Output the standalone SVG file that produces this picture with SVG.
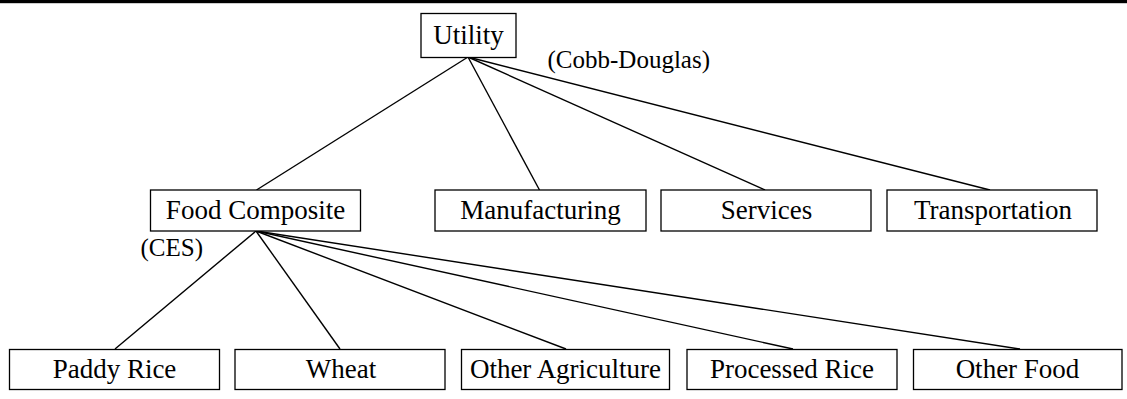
<svg xmlns="http://www.w3.org/2000/svg" width="1127" height="399" viewBox="0 0 1127 399">
<style>
.box{fill:#fff;stroke:#000;stroke-width:1.3}
.lbl{font-family:"Liberation Serif","Times New Roman",serif;font-size:27px;fill:#000;text-anchor:middle}
.ann{font-family:"Liberation Serif","Times New Roman",serif;font-size:25px;fill:#000}
.edge{stroke:#000;stroke-width:1.4;fill:none}
</style>
<rect x="0" y="0" width="1127" height="3.2" fill="#000"/>
<g id="connectors">
<line class="edge" x1="468" y1="57" x2="256.5" y2="190"/>
<line class="edge" x1="468" y1="57" x2="539.5" y2="190"/>
<line class="edge" x1="468" y1="57" x2="765" y2="190"/>
<line class="edge" x1="468" y1="57" x2="990" y2="190"/>
<line class="edge" x1="256" y1="231" x2="115" y2="349"/>
<line class="edge" x1="256" y1="231" x2="340" y2="349"/>
<line class="edge" x1="256" y1="231" x2="566" y2="349"/>
<line class="edge" x1="256" y1="231" x2="793" y2="349"/>
<line class="edge" x1="256" y1="231" x2="1020" y2="349"/>
</g>
<g id="utility"><rect class="box" x="421" y="13.5" width="95" height="44"/><text class="lbl" x="468.5" y="43.5">Utility</text></g>
<g id="cobb-douglas"><text class="ann" x="547.5" y="68">(Cobb-Douglas)</text></g>
<g id="food-composite"><rect class="box" x="150.5" y="190" width="210" height="41"/><text class="lbl" x="255.5" y="218.5">Food Composite</text></g>
<g id="ces"><text class="ann" x="140.5" y="256">(CES)</text></g>
<g id="manufacturing"><rect class="box" x="435" y="190" width="211" height="41"/><text class="lbl" x="540.5" y="218.5">Manufacturing</text></g>
<g id="services"><rect class="box" x="661" y="190" width="210" height="41"/><text class="lbl" x="766.5" y="218.5">Services</text></g>
<g id="transportation"><rect class="box" x="887" y="190" width="210" height="41"/><text class="lbl" x="993" y="218.5">Transportation</text></g>
<g id="paddy-rice"><rect class="box" x="9.5" y="349.5" width="210" height="40"/><text class="lbl" x="114.5" y="378">Paddy Rice</text></g>
<g id="wheat"><rect class="box" x="235" y="349.5" width="210" height="40"/><text class="lbl" x="341" y="378">Wheat</text></g>
<g id="other-agriculture"><rect class="box" x="461.5" y="349.5" width="208" height="40"/><text class="lbl" x="565.5" y="378">Other Agriculture</text></g>
<g id="processed-rice"><rect class="box" x="687" y="349.5" width="210" height="40"/><text class="lbl" x="792" y="378">Processed Rice</text></g>
<g id="other-food"><rect class="box" x="913.5" y="349.5" width="208.5" height="40"/><text class="lbl" x="1017.5" y="378">Other Food</text></g>
</svg>
